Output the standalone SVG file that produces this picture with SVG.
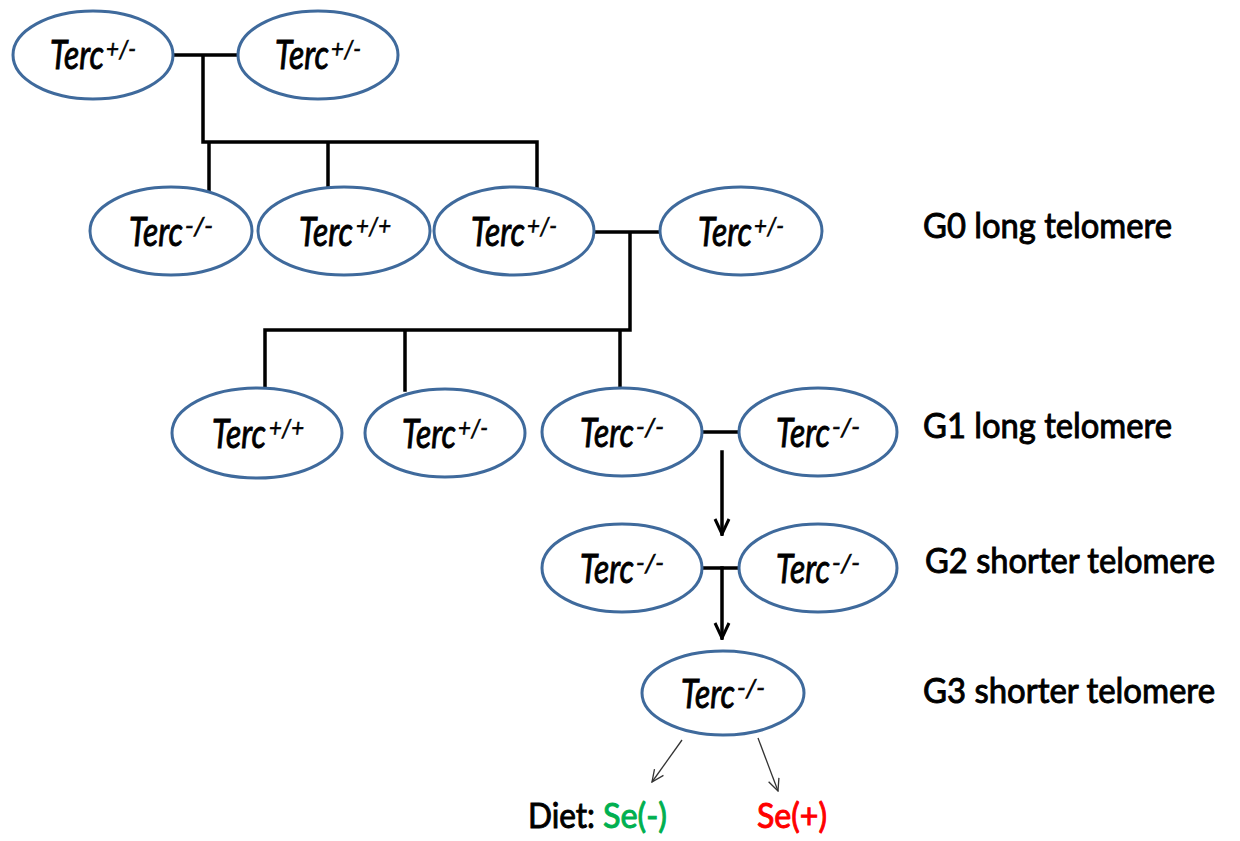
<svg xmlns="http://www.w3.org/2000/svg" width="1240" height="841" viewBox="0 0 1240 841">
<style>
.node ellipse{fill:#ffffff;stroke:#3f6a9c;stroke-width:3}
.node text{font-family:Lato,"Open Sans","Liberation Sans",sans-serif;font-style:italic;fill:#000;stroke:#000;stroke-width:0.9}
.node text.t{font-size:40px}
.node text.s{font-size:26px;stroke-width:0.6}
.lbl{font-family:Lato,"Open Sans","Liberation Sans",sans-serif;font-size:33px;fill:#000;stroke:#000;stroke-width:0.9}
.ln{stroke:#000;stroke-width:3.5;fill:none;stroke-linecap:square}
.thin{stroke:#333;stroke-width:1.3;fill:none}
</style>
<defs>
<marker id="ah" viewBox="0 0 20 20" refX="18" refY="10" markerWidth="20" markerHeight="20" markerUnits="userSpaceOnUse" orient="auto">
<path d="M3,3 L18,10 L3,17" fill="none" stroke="#000" stroke-width="3"/>
</marker>
<marker id="ah2" viewBox="0 0 14 14" refX="13" refY="7" markerWidth="14" markerHeight="14" markerUnits="userSpaceOnUse" orient="auto">
<path d="M1,1.5 L13,7 L1,12.5" fill="none" stroke="#333" stroke-width="1.3"/>
</marker>
</defs>
<g id="connectors">
<path class="ln" d="M173,55 H237 M203,55 V142 M203,142 H537 M209,142 V191 M328,142 V187 M537,142 V189"/>
<path class="ln" d="M595,232 H660 M630,232 V330 M265,330 H630 M265,330 V389 M405,330 V390 M620,330 V388"/>
<path class="ln" d="M702,432 H740 M702,568 H740"/>
<line class="ln" x1="722" y1="452" x2="722" y2="534" marker-end="url(#ah)" stroke-linecap="butt"/>
<line class="ln" x1="722" y1="568" x2="722" y2="638" marker-end="url(#ah)" stroke-linecap="butt"/>
<line class="thin" x1="682" y1="740" x2="652" y2="782" marker-end="url(#ah2)"/>
<line class="thin" x1="758" y1="738" x2="778" y2="791" marker-end="url(#ah2)"/>
</g>
<g id="n1" class="node"><ellipse cx="93" cy="55" rx="80" ry="44"/><text class="t" transform="translate(50,69) scale(0.7,1)" textLength="77" lengthAdjust="spacingAndGlyphs">Terc</text><text class="s" x="106" y="58" textLength="30" lengthAdjust="spacingAndGlyphs">+/-</text></g>
<g id="n2" class="node"><ellipse cx="318" cy="55" rx="80" ry="44"/><text class="t" transform="translate(275,69) scale(0.7,1)" textLength="77" lengthAdjust="spacingAndGlyphs">Terc</text><text class="s" x="331" y="58" textLength="30" lengthAdjust="spacingAndGlyphs">+/-</text></g>
<g id="n3" class="node"><ellipse cx="171" cy="231" rx="81" ry="44"/><text class="t" transform="translate(129,246) scale(0.7,1)" textLength="77" lengthAdjust="spacingAndGlyphs">Terc</text><text class="s" x="185" y="235" textLength="28" lengthAdjust="spacingAndGlyphs">-/-</text></g>
<g id="n4" class="node"><ellipse cx="344" cy="231" rx="86" ry="44"/><text class="t" transform="translate(299,246) scale(0.7,1)" textLength="77" lengthAdjust="spacingAndGlyphs">Terc</text><text class="s" x="356" y="235" textLength="35" lengthAdjust="spacingAndGlyphs">+/+</text></g>
<g id="n5" class="node"><ellipse cx="514" cy="231" rx="80" ry="44"/><text class="t" transform="translate(471,246) scale(0.7,1)" textLength="77" lengthAdjust="spacingAndGlyphs">Terc</text><text class="s" x="527" y="235" textLength="30" lengthAdjust="spacingAndGlyphs">+/-</text></g>
<g id="n6" class="node"><ellipse cx="741" cy="231" rx="81" ry="44"/><text class="t" transform="translate(698,246) scale(0.7,1)" textLength="77" lengthAdjust="spacingAndGlyphs">Terc</text><text class="s" x="754" y="235" textLength="30" lengthAdjust="spacingAndGlyphs">+/-</text></g>
<g id="n7" class="node"><ellipse cx="257" cy="433" rx="85" ry="45"/><text class="t" transform="translate(212,448) scale(0.7,1)" textLength="77" lengthAdjust="spacingAndGlyphs">Terc</text><text class="s" x="269" y="437" textLength="35" lengthAdjust="spacingAndGlyphs">+/+</text></g>
<g id="n8" class="node"><ellipse cx="445" cy="433" rx="80" ry="44"/><text class="t" transform="translate(402,448) scale(0.7,1)" textLength="77" lengthAdjust="spacingAndGlyphs">Terc</text><text class="s" x="458" y="437" textLength="30" lengthAdjust="spacingAndGlyphs">+/-</text></g>
<g id="n9" class="node"><ellipse cx="622" cy="432" rx="80" ry="44"/><text class="t" transform="translate(580,447) scale(0.7,1)" textLength="77" lengthAdjust="spacingAndGlyphs">Terc</text><text class="s" x="636" y="436" textLength="28" lengthAdjust="spacingAndGlyphs">-/-</text></g>
<g id="n10" class="node"><ellipse cx="818" cy="432" rx="79" ry="44"/><text class="t" transform="translate(776,447) scale(0.7,1)" textLength="77" lengthAdjust="spacingAndGlyphs">Terc</text><text class="s" x="832" y="436" textLength="28" lengthAdjust="spacingAndGlyphs">-/-</text></g>
<g id="n11" class="node"><ellipse cx="622" cy="568" rx="80" ry="44"/><text class="t" transform="translate(580,583) scale(0.7,1)" textLength="77" lengthAdjust="spacingAndGlyphs">Terc</text><text class="s" x="636" y="572" textLength="28" lengthAdjust="spacingAndGlyphs">-/-</text></g>
<g id="n12" class="node"><ellipse cx="818" cy="568" rx="79" ry="44"/><text class="t" transform="translate(776,583) scale(0.7,1)" textLength="77" lengthAdjust="spacingAndGlyphs">Terc</text><text class="s" x="832" y="572" textLength="28" lengthAdjust="spacingAndGlyphs">-/-</text></g>
<g id="n13" class="node"><ellipse cx="723" cy="693" rx="81" ry="42"/><text class="t" transform="translate(681,708) scale(0.7,1)" textLength="77" lengthAdjust="spacingAndGlyphs">Terc</text><text class="s" x="737" y="697" textLength="28" lengthAdjust="spacingAndGlyphs">-/-</text></g>
<g id="labels">
<text class="lbl" transform="translate(923,238) scale(1,1.08)" textLength="249" lengthAdjust="spacingAndGlyphs">G0 long telomere</text>
<text class="lbl" transform="translate(923,438) scale(1,1.08)" textLength="249" lengthAdjust="spacingAndGlyphs">G1 long telomere</text>
<text class="lbl" transform="translate(925,573) scale(1,1.08)" textLength="290" lengthAdjust="spacingAndGlyphs">G2 shorter telomere</text>
<text class="lbl" transform="translate(923,703) scale(1,1.08)" textLength="292" lengthAdjust="spacingAndGlyphs">G3 shorter telomere</text>
<text class="lbl" transform="translate(528,828) scale(1,1.08)" textLength="67" lengthAdjust="spacingAndGlyphs">Diet:</text>
<text class="lbl" transform="translate(603,828) scale(1,1.08)" textLength="64" lengthAdjust="spacingAndGlyphs" style="fill:#00b050;stroke:#00b050">Se(-)</text>
<text class="lbl" transform="translate(757,828) scale(1,1.08)" textLength="70" lengthAdjust="spacingAndGlyphs" style="fill:#ff0000;stroke:#ff0000">Se(+)</text>
</g>
</svg>
